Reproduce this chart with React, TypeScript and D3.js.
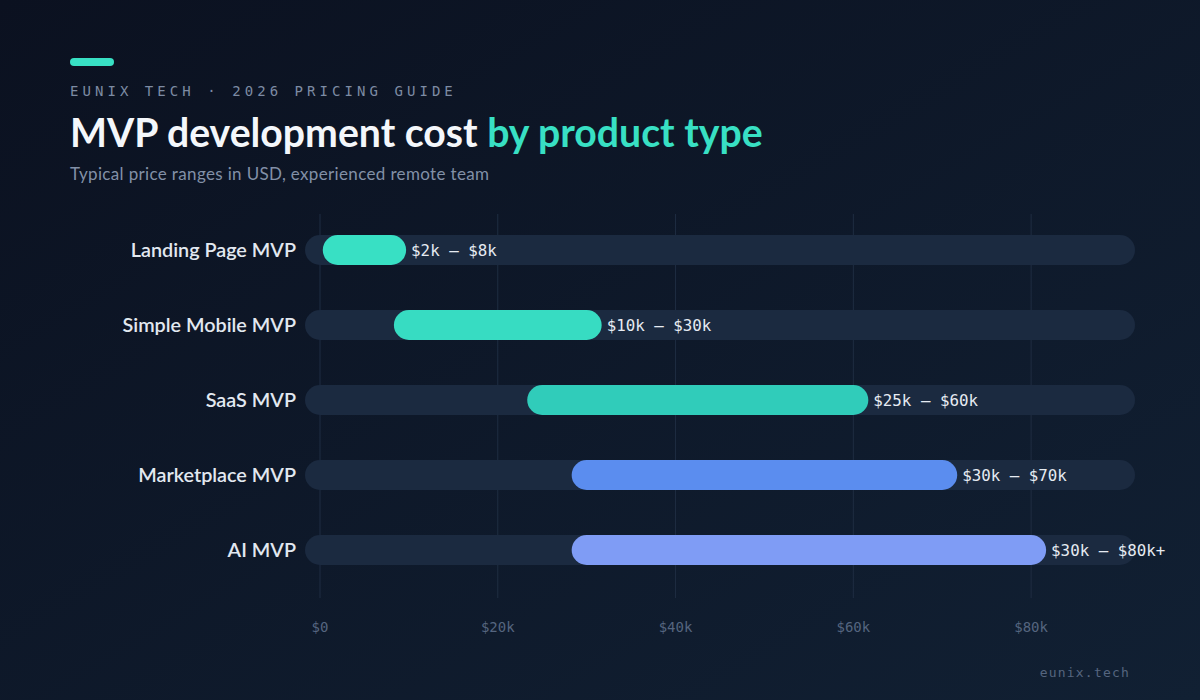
import React from "react";
import * as d3 from "d3";

const categories = ["Landing Page MVP", "Simple Mobile MVP", "SaaS MVP", "Marketplace MVP", "AI MVP"];
const lowValues = [2000, 10000, 25000, 30000, 30000];
const highValues = [8000, 30000, 60000, 70000, 80000];
const rangeLabels = ["$2k – $8k", "$10k – $30k", "$25k – $60k", "$30k – $70k", "$30k – $80k+"];
const barColors = ["#38e0c4", "#37dcc2", "#30ccba", "#5b8def", "#7f9cf5"];
const tickValues = [0, 20000, 40000, 60000, 80000];
const tickLabels = ["$0", "$20k", "$40k", "$60k", "$80k"];

const W = 1200;
const H = 700;
const MONO = "'DejaVu Sans Mono', monospace";
const SANS = "Lato, 'Noto Sans', sans-serif";

export default function App() {
  const x = d3.scaleLinear().domain([0, 90000]).range([320, 1120]);
  const y = d3.scalePoint<string>().domain(categories).range([250, 550]);
  const barH = 30;
  const r = barH / 2;

  return (
    <svg width={W} height={H} style={{ position: "absolute", left: 0, top: 0, display: "block" }}>
      <defs>
        <linearGradient id="bg" x1="0" y1="0" x2="1" y2="1">
          <stop offset="0%" stopColor="#0b1120" />
          <stop offset="100%" stopColor="#112033" />
        </linearGradient>
      </defs>
      <rect x={0} y={0} width={W} height={H} fill="url(#bg)" />

      {/* header */}
      <rect x={70} y={58} width={44} height={8} rx={4} fill="#38e0c4" />
      <text x={70} y={96} fontFamily={MONO} fontSize={14} letterSpacing={4.05} fill="#7d8ba3">
        EUNIX TECH · 2026 PRICING GUIDE
      </text>
      <text x={70} y={147} fontFamily={SANS} fontWeight={700} fontSize={39.2} fill="#f4f7fb">
        MVP development cost <tspan fill="#38e0c4">by product type</tspan>
      </text>
      <text x={70} y={180} fontFamily={SANS} fontWeight={400} fontSize={17} letterSpacing={0.35} fill="#8290a7">
        Typical price ranges in USD, experienced remote team
      </text>

      {/* vertical grid */}
      {tickValues.map((t) => (
        <line key={t} x1={x(t)} x2={x(t)} y1={214} y2={598} stroke="#1f2d42" strokeWidth={1} />
      ))}

      {/* rows */}
      {categories.map((c, i) => {
        const cy = y(c)!;
        return (
          <g key={c}>
            <line x1={x(0)} x2={x(90000)} y1={cy} y2={cy} stroke="#1b2a40" strokeWidth={barH} strokeLinecap="round" />
            <line
              x1={x(lowValues[i])}
              x2={x(highValues[i])}
              y1={cy}
              y2={cy}
              stroke={barColors[i]}
              strokeWidth={barH}
              strokeLinecap="round"
            />
            <text x={296} y={cy} dy="0.35em" textAnchor="end" fontFamily={SANS} fontWeight={600} fontSize={19.8} fill="#e2e8f0">
              {c}
            </text>
            <text x={x(highValues[i]) + r + 5} y={cy} dy="0.35em" fontFamily={MONO} fontSize={15.8} fill="#e6ebf2">
              {rangeLabels[i]}
            </text>
          </g>
        );
      })}

      {/* axis ticks */}
      {tickValues.map((t, i) => (
        <text key={t} x={x(t)} y={632} textAnchor="middle" fontFamily={MONO} fontSize={14} fill="#55657f">
          {tickLabels[i]}
        </text>
      ))}

      <text x={1130} y={677} textAnchor="end" fontFamily={MONO} fontSize={13} letterSpacing={1.2} fill="#55657f">
        eunix.tech
      </text>
    </svg>
  );
}
